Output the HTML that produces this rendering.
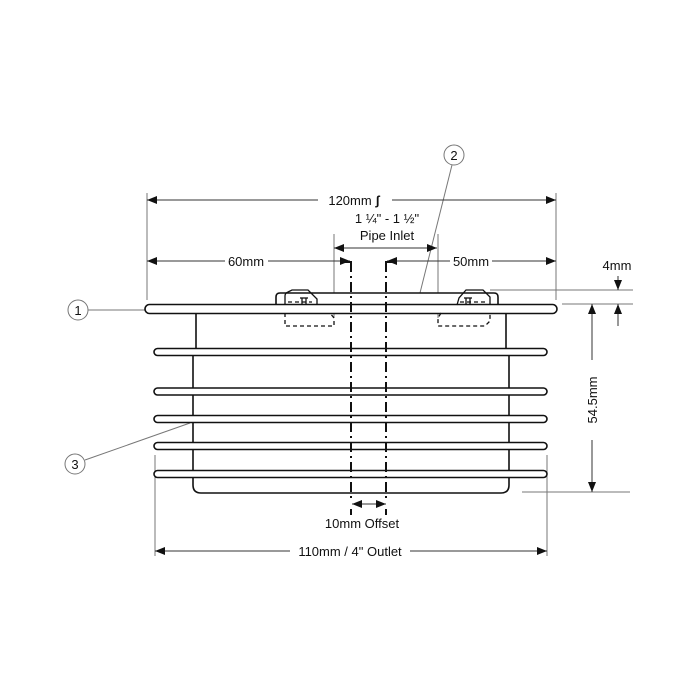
<!DOCTYPE html>
<html><head><style>html,body{margin:0;padding:0;background:#fff}svg{display:block}text{font-family:"Liberation Sans",Arial,sans-serif;font-size:13px;fill:#111}</style></head>
<body>
<svg width="700" height="700" viewBox="0 0 700 700" xmlns="http://www.w3.org/2000/svg">
<defs>
<marker id="a" markerWidth="10" markerHeight="8" refX="10" refY="4" orient="auto-start-reverse" markerUnits="userSpaceOnUse"><path d="M0,0 L10,4 L0,8 Z" fill="#111"/></marker>
</defs>
<g stroke="#777" stroke-width="1" fill="none">
<line x1="147" y1="193" x2="147" y2="300"/>
<line x1="556" y1="193" x2="556" y2="300"/>
<line x1="334" y1="234" x2="334" y2="318"/>
<line x1="438" y1="234" x2="438" y2="318"/>
<line x1="490" y1="290" x2="633" y2="290"/>
<line x1="562" y1="304" x2="633" y2="304"/>
<line x1="522" y1="492" x2="630" y2="492"/>
<line x1="155" y1="455" x2="155" y2="556"/>
<line x1="547" y1="455" x2="547" y2="556"/>
<line x1="88" y1="310" x2="145" y2="310"/>
<line x1="452" y1="165" x2="420" y2="293"/>
<line x1="85" y1="460" x2="190" y2="423"/>
<circle cx="78" cy="310" r="10"/>
<circle cx="454" cy="155" r="10"/>
<circle cx="75" cy="464" r="10"/>
</g>
<g stroke="#333" stroke-width="1" fill="none">
<line x1="147" y1="200" x2="318" y2="200" marker-start="url(#a)"/>
<line x1="392" y1="200" x2="556" y2="200" marker-end="url(#a)"/>
<line x1="147" y1="261" x2="225" y2="261" marker-start="url(#a)"/>
<line x1="268" y1="261" x2="350" y2="261" marker-end="url(#a)"/>
<line x1="387" y1="261" x2="450" y2="261" marker-start="url(#a)"/>
<line x1="492" y1="261" x2="556" y2="261" marker-end="url(#a)"/>
<line x1="334" y1="248" x2="437" y2="248" marker-start="url(#a)" marker-end="url(#a)"/>
<line x1="618" y1="276" x2="618" y2="290" marker-end="url(#a)"/>
<line x1="618" y1="326" x2="618" y2="304" marker-end="url(#a)"/>
<line x1="592" y1="360" x2="592" y2="304" marker-end="url(#a)"/>
<line x1="592" y1="440" x2="592" y2="492" marker-end="url(#a)"/>
<line x1="352" y1="504" x2="386" y2="504" marker-start="url(#a)" marker-end="url(#a)"/>
<line x1="155" y1="551" x2="290" y2="551" marker-start="url(#a)"/>
<line x1="410" y1="551" x2="547" y2="551" marker-end="url(#a)"/>
</g>
<g stroke="#111" stroke-width="1.6" fill="#fff">
<line x1="196" y1="313" x2="196" y2="352"/>
<line x1="506" y1="313" x2="506" y2="352"/>
<path d="M193,352 V485 Q193,493 201,493 H501 Q509,493 509,485 V352" fill="none"/>
<path d="M276,305 V297 Q276,293 280,293 H494 Q498,293 498,297 V305"/>
<rect x="145" y="304.5" width="412" height="9" rx="4.5"/>
<rect x="154" y="348.5" width="393" height="7" rx="3.5"/>
<rect x="154" y="388" width="393" height="7" rx="3.5"/>
<rect x="154" y="415.5" width="393" height="7" rx="3.5"/>
<rect x="154" y="442.5" width="393" height="7" rx="3.5"/>
<rect x="154" y="470.5" width="393" height="7" rx="3.5"/>
</g>
<g stroke="#111" stroke-width="1.3" fill="none">
<path d="M285,304 V296 Q285,293 288,292 L292,290 H308 L317,299 V305"/>
<path d="M457,305 L459,298 L466,290 H483 L490,297 V305"/>
<line x1="302" y1="298" x2="302" y2="305"/><line x1="306" y1="298" x2="306" y2="305"/>
<line x1="466" y1="298" x2="466" y2="305"/><line x1="470" y1="298" x2="470" y2="305"/>
<line x1="300" y1="298" x2="308" y2="298"/><line x1="464" y1="298" x2="472" y2="298"/>
</g>
<g stroke="#111" stroke-width="1.3" fill="none" stroke-dasharray="4,3">
<path d="M285,313 V326 H334 V318 L330,313"/>
<path d="M288,302 H312"/>
<path d="M441,313 L438,318 V326 H485 L490,321 V313"/>
<path d="M460,302 H488"/>
</g>
<g stroke="#111" stroke-width="2" fill="none" stroke-dasharray="10,4,2,4">
<line x1="351" y1="262" x2="351" y2="500"/>
<line x1="386" y1="262" x2="386" y2="500"/>
</g>
<g stroke="#111" stroke-width="2">
<line x1="351" y1="509" x2="351" y2="515"/>
<line x1="386" y1="509" x2="386" y2="515"/>
<line x1="344" y1="262" x2="352" y2="262"/>
<line x1="385" y1="262" x2="393" y2="262"/>
</g>
<text x="354" y="205" text-anchor="middle">120mm <tspan font-weight="bold">ʃ</tspan></text>
<text x="387" y="223" text-anchor="middle">1 ¼" - 1 ½"</text>
<text x="387" y="240" text-anchor="middle">Pipe Inlet</text>
<text x="246" y="266" text-anchor="middle">60mm</text>
<text x="471" y="266" text-anchor="middle">50mm</text>
<text x="617" y="270" text-anchor="middle">4mm</text>
<text x="362" y="528" text-anchor="middle">10mm Offset</text>
<text x="350" y="556" text-anchor="middle">110mm / 4" Outlet</text>
<text transform="translate(597,400) rotate(-90)" text-anchor="middle">54.5mm</text>
<text x="78" y="315" text-anchor="middle" font-size="12">1</text>
<text x="454" y="160" text-anchor="middle" font-size="12">2</text>
<text x="75" y="469" text-anchor="middle" font-size="12">3</text>
</svg>
</body></html>
